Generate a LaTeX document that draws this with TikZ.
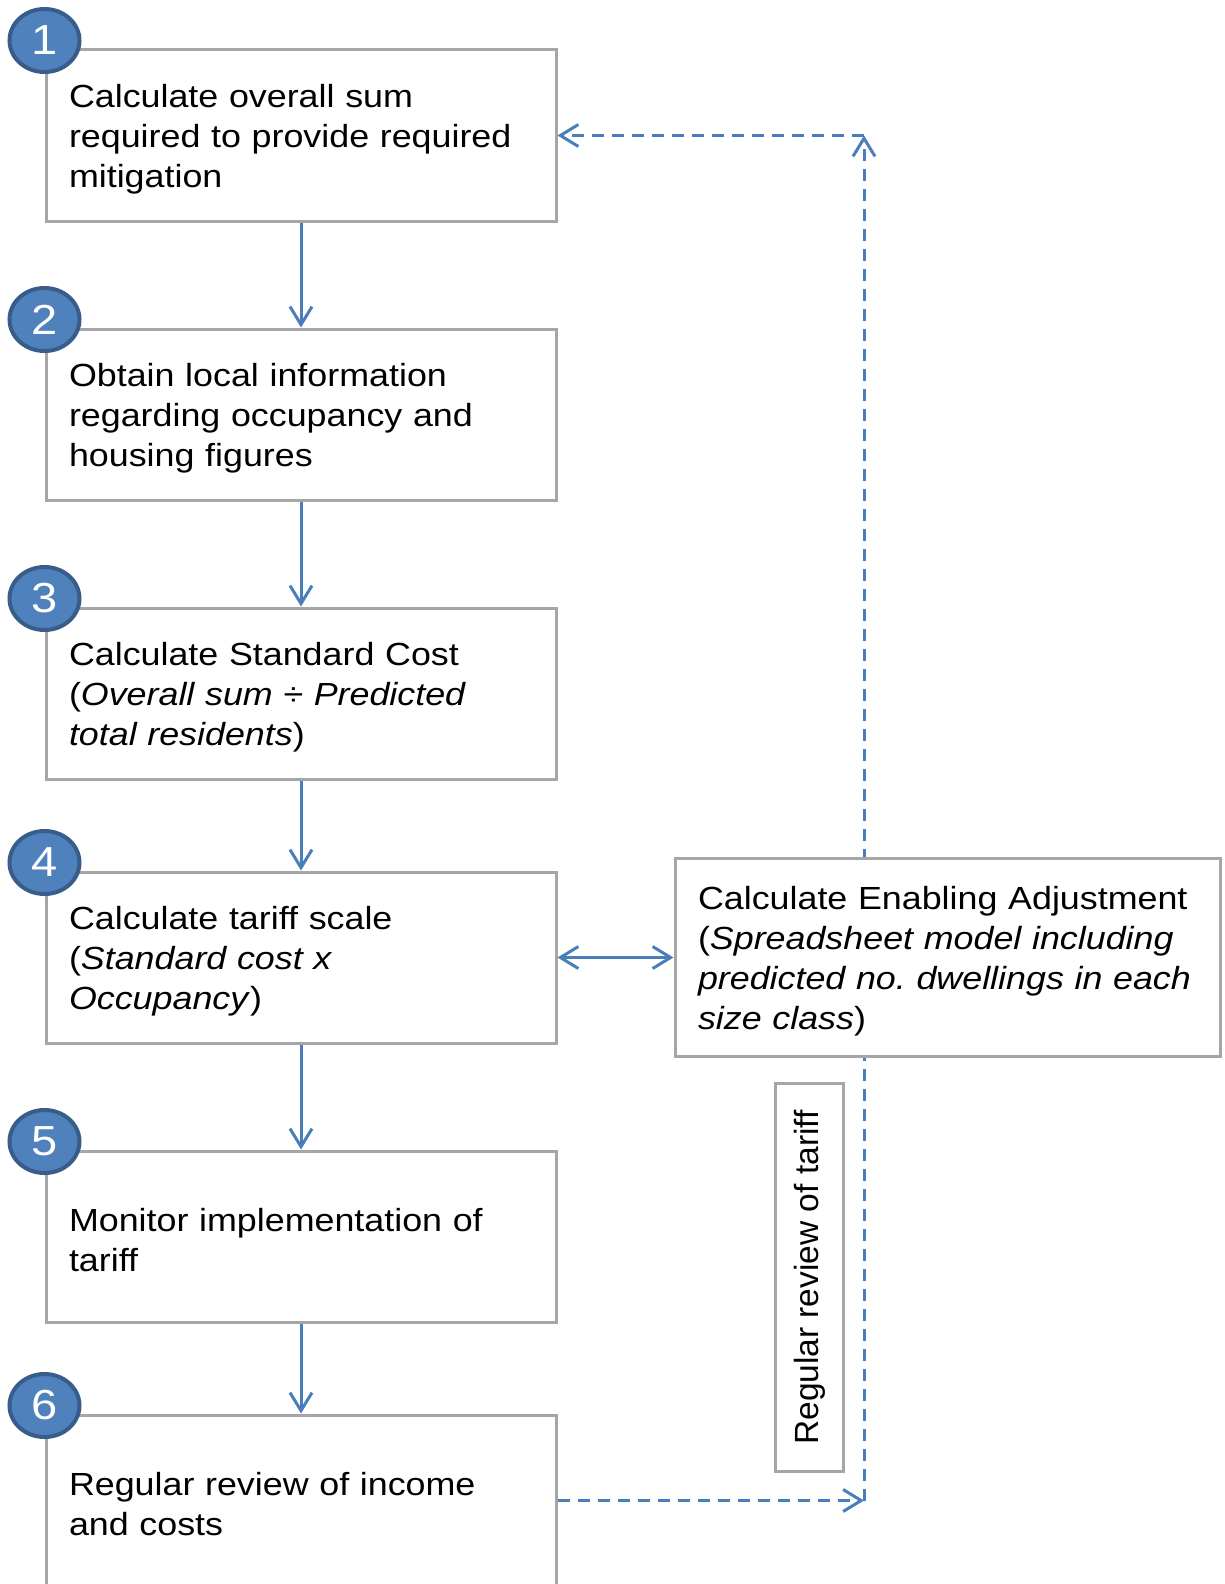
\documentclass[tikz,border=0pt]{standalone}
\usepackage{fontspec}
\setmainfont{Liberation Sans}[FakeStretch=1.12]
\newfontfamily\uprightlabel{Liberation Sans}
\usetikzlibrary{arrows.meta,positioning,shapes.geometric}
\definecolor{flowblue}{HTML}{4A7EBB}
\definecolor{badgeblue}{HTML}{4F81BD}
\definecolor{badgeedge}{HTML}{385D8A}
\definecolor{boxgray}{HTML}{A6A6A6}
\frenchspacing

\begin{document}
\begin{tikzpicture}[x=1pt,y=1pt,>={Straight Barb[length=18pt,width=22pt,line width=3pt]},
		stage box/.style={rectangle,draw=boxgray,line width=3pt,fill=white,
			text width=464pt,inner xsep=23pt,inner ysep=0pt,minimum height=171pt,
			align=left,font=\fontsize{32}{40}\selectfont,
			execute at begin node=\rule{0pt}{31pt}},
		adjust box/.style={stage box,text width=499pt,minimum height=198pt},
		badge/.style={ellipse,draw=badgeedge,fill=badgeblue,line width=4pt,
			minimum width=70pt,minimum height=63pt,inner sep=0pt,
			text=white,font=\fontsize{42}{42}\selectfont},
		flow/.style={->,draw=flowblue,line width=3pt},
		feedback/.style={flow,dash pattern=on 12pt off 8pt}]
	\useasboundingbox (0,0) rectangle (1225,-1584);
	\node[stage box,anchor=north west] (1) at (44.5,-48.5)
		{Calculate overall sum\\required to provide required\\mitigation};
	\node[stage box] (2) [below=105pt of 1]
		{Obtain local information\\regarding occupancy and\\housing figures};
	\node[stage box] (3) [below=105pt of 2]
		{Calculate Standard Cost\\(\textit{Overall sum ÷ Predicted}\\\textit{total residents})};
	\node[stage box] (4) [below=90pt of 3]
		{Calculate tariff scale\\(\textit{Standard cost x}\\\textit{Occupancy})};
	\node[stage box] (5) [below=105pt of 4]
		{Monitor implementation of\\tariff};
	\node[stage box] (6) [below=90pt of 5]
		{Regular review of income\\and costs};
	%
	% Numbered badges on the top left corners.
	\foreach \n in {1,...,6}
		\node[badge,yshift=8pt] (b\n) at (\n.north west) {\n};
	%
	% Main sequence of steps.
	\path[flow]
		(1) edge (2)
		(2) edge (3)
		(3) edge (4)
		(4) edge (5)
		(5) edge (6);
	%
	% Feedback loop from step 6 back to step 1.
	\coordinate[right=306.5pt of 6] (lo);
	\coordinate (hi) at (lo |- 1.east);
	\draw[feedback] (6) -- (lo);
	\draw[feedback] (lo) -- (hi);
	\draw[feedback] (hi) -- (1);
	%
	% Enabling adjustment and review label.
	\node[adjust box] (adj) [right=116pt of 4]
		{Calculate Enabling Adjustment\\(\textit{Spreadsheet model including}\\\textit{predicted no. dwellings in each}\\\textit{size class})};
	\node[rectangle,draw=boxgray,line width=3pt,fill=white,inner sep=0pt,
		minimum width=68pt,minimum height=388pt,anchor=north,xshift=136pt,
		font=\uprightlabel\fontsize{33.5}{40}\selectfont] (rev) [below=24pt of adj.south west]
		{\rotatebox{90}{Regular review of tariff}};
	\draw[flow,<->] (4) -- (adj);
\end{tikzpicture}
\end{document}
